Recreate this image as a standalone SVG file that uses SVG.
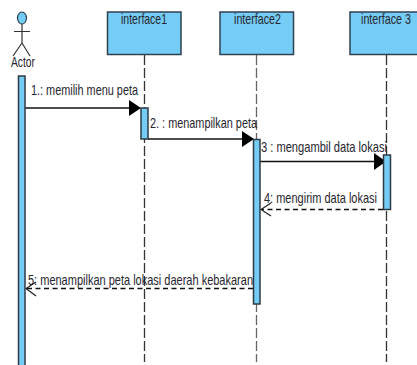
<svg xmlns="http://www.w3.org/2000/svg" width="417" height="365" viewBox="0 0 417 365">
<style>
.box{fill:#75cdf5;stroke:#2f4050;stroke-width:1.5}
.act{fill:#75cdf5;stroke:#2f3a45;stroke-width:1.5}
.life{fill:none;stroke:#333;stroke-width:1.3;stroke-dasharray:10 3}
.sync{fill:none;stroke:#111;stroke-width:1.5}
.ret{fill:none;stroke:#111;stroke-width:1.3;stroke-dasharray:5 3.5}
.open{fill:none;stroke:#222;stroke-width:1.2}
.head{fill:#000;stroke:none}
.stick{fill:none;stroke:#333;stroke-width:1.2}
text{font-family:"Liberation Sans",Arial,sans-serif;font-size:14.5px;fill:#26262e}
</style>
<rect width="417" height="365" fill="#fff"/>
<g id="connectors">
<path class="life" d="M144.500 55V362"/>
<path class="life" d="M256.500 55V362" style="stroke:#666"/>
<path class="life" d="M386.500 55V362"/>
<path class="sync" d="M25 108H130"/>
<path class="head" d="M141 108L129 100V116Z"/>
<path class="sync" d="M148 139H243"/>
<path class="head" d="M254 139L242 131V147Z"/>
<path class="sync" d="M260 161.500H375"/>
<path class="head" d="M386 161.500L374 153V170Z"/>
<path class="ret" d="M383 209.500H262"/>
<path class="open" d="M271 203L261 209.500L271 216"/>
<path class="ret" d="M253 288.500H27"/>
<path class="open" d="M36 282L26 288.500L36 296"/>
</g>
<g id="actor">
<ellipse cx="22" cy="18" rx="4.500" ry="6" fill="#75cdf5" stroke="#2f4050" stroke-width="1.200"/>
<path class="stick" d="M22 24V43M14 31.500H30M22 43L13 56M22 43L30 56"/>
<text transform="translate(11 67) scale(.8 1)" textLength="30" lengthAdjust="spacingAndGlyphs">Actor</text>
</g>
<g id="actor-activation"><rect class="act" x="18.500" y="76" width="6.500" height="292"/></g>
<g id="interface1">
<rect class="box" x="107.500" y="12" width="73.500" height="42.500"/>
<text transform="translate(121 23.500) scale(.8 1)" textLength="57.500" lengthAdjust="spacingAndGlyphs">interface1</text>
</g>
<g id="interface2">
<rect class="box" x="220" y="12" width="73.500" height="42.500"/>
<text transform="translate(234 23.500) scale(.8 1)" textLength="58.750" lengthAdjust="spacingAndGlyphs">interface2</text>
</g>
<g id="interface3">
<rect class="box" x="350" y="12" width="73.500" height="42.500"/>
<text transform="translate(361 23.500) scale(.8 1)" textLength="62.500" lengthAdjust="spacingAndGlyphs">interface 3</text>
</g>
<g id="activation1"><rect class="act" x="141" y="108" width="7" height="31"/></g>
<g id="activation2"><rect class="act" x="253.500" y="139.500" width="6.500" height="164.500"/></g>
<g id="activation3"><rect class="act" x="383.500" y="155" width="7" height="54.500"/></g>
<g id="labels">
<text transform="translate(31 95) scale(.8 1)" textLength="133.750" lengthAdjust="spacingAndGlyphs">1.: memilih menu peta</text>
<text transform="translate(150 128) scale(.8 1)" textLength="133.750" lengthAdjust="spacingAndGlyphs">2. : menampilkan peta</text>
<text transform="translate(261 152) scale(.8 1)" textLength="157.500" lengthAdjust="spacingAndGlyphs">3 : mengambil data lokasi</text>
<text transform="translate(264 203) scale(.8 1)" textLength="141.250" lengthAdjust="spacingAndGlyphs">4: mengirim data lokasi</text>
<text transform="translate(28 285) scale(.8 1)" textLength="281.250" lengthAdjust="spacingAndGlyphs">5: menampilkan peta lokasi daerah kebakaran</text>
</g>
</svg>
